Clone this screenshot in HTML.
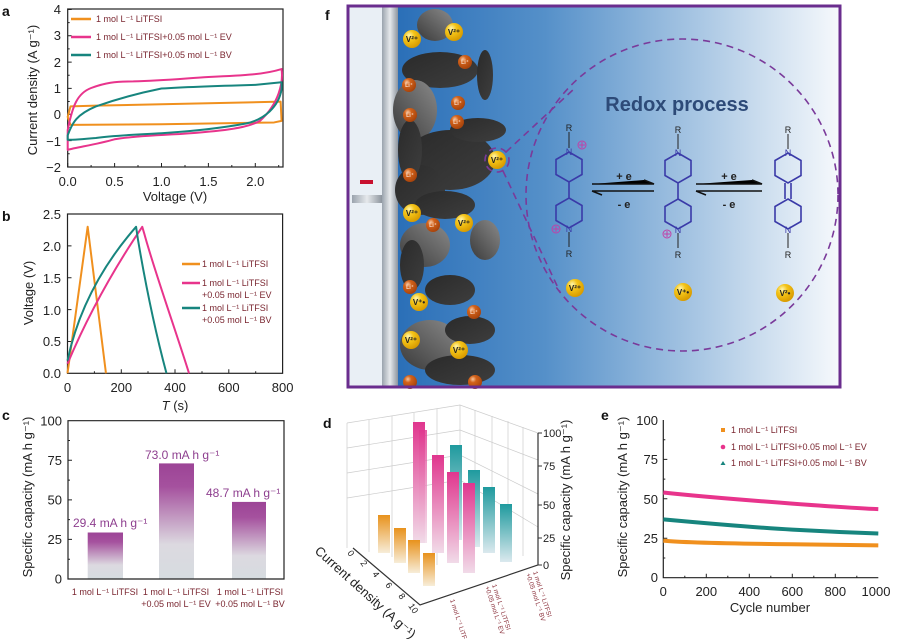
<!DOCTYPE html>
<html><head><meta charset="utf-8"><style>
html,body{margin:0;padding:0;background:#fff;}
svg{display:block;font-family:"Liberation Sans",sans-serif;}
.t{font-size:13px;fill:#222;}
.lg{font-size:9px;fill:#7a2630;}
.ax{fill:none;stroke:#222;stroke-width:1.2;}
.ns{vector-effect:non-scaling-stroke;fill:none;stroke-width:2;stroke-linejoin:round;}
.pl{font-size:14px;font-weight:bold;fill:#111;}
.ion{font-size:8px;font-weight:bold;fill:#222;}
.li{font-size:6px;fill:#fff;}
.mol{fill:none;stroke:#3a3aa8;stroke-width:1.6;}
</style></head><body>
<svg width="900" height="639" viewBox="0 0 900 639" xmlns="http://www.w3.org/2000/svg">
<defs>
<linearGradient id="bg" x1="0" x2="1" y1="0" y2="0"><stop offset="0" stop-color="#1c64b2"/><stop offset="0.4" stop-color="#5590c9"/><stop offset="1" stop-color="#f6f9fc"/></linearGradient>
<linearGradient id="rod" x1="0" x2="1"><stop offset="0" stop-color="#9aa3ad"/><stop offset="0.5" stop-color="#e6e9ec"/><stop offset="1" stop-color="#8d959e"/></linearGradient>
<linearGradient id="cb" x1="0" x2="0" y1="0" y2="1"><stop offset="0" stop-color="#9c4496"/><stop offset="0.2" stop-color="#a5519e"/><stop offset="0.7" stop-color="#dcd9e0"/><stop offset="1" stop-color="#d6dce0"/></linearGradient>
<linearGradient id="gO" x1="0" x2="0" y1="0" y2="1"><stop offset="0" stop-color="#e8921c"/><stop offset="1" stop-color="#f7edd8"/></linearGradient>
<linearGradient id="gP" x1="0" x2="0" y1="0" y2="1"><stop offset="0" stop-color="#e0368e"/><stop offset="1" stop-color="#f1dbe8"/></linearGradient>
<linearGradient id="gT" x1="0" x2="0" y1="0" y2="1"><stop offset="0" stop-color="#1f9a9e"/><stop offset="1" stop-color="#dbe9ee"/></linearGradient>
<radialGradient id="vy" cx="0.35" cy="0.3" r="0.7"><stop offset="0" stop-color="#fff6b0"/><stop offset="0.4" stop-color="#f4c418"/><stop offset="1" stop-color="#d99c00"/></radialGradient>
<radialGradient id="lo" cx="0.35" cy="0.3" r="0.7"><stop offset="0" stop-color="#f6c6a0"/><stop offset="0.35" stop-color="#d2621a"/><stop offset="1" stop-color="#a8440c"/></radialGradient>
<linearGradient id="blob" x1="0" x2="1" y1="0" y2="1"><stop offset="0" stop-color="#2a2a2a"/><stop offset="1" stop-color="#3e3e3e"/></linearGradient>
<linearGradient id="blob2" x1="0" x2="1" y1="1" y2="0"><stop offset="0" stop-color="#3a3a3a"/><stop offset="1" stop-color="#8a8a8a"/></linearGradient>
</defs>

<!-- ===== Panel a ===== -->
<text x="2" y="16" class="pl">a</text>
<rect x="67.7" y="9" width="215.3" height="158" class="ax"/>
<g class="t" text-anchor="end">
<text x="61" y="14">4</text><text x="61" y="40">3</text><text x="61" y="67">2</text><text x="61" y="93">1</text><text x="61" y="119">0</text><text x="61" y="146">−1</text><text x="61" y="172">−2</text>
</g>
<g stroke="#222" stroke-width="1">
<path d="M67.7 9.5h4M67.7 35.8h4M67.7 62.1h4M67.7 88.4h4M67.7 114.3h4M67.7 140.6h4M67.7 22.6h2M67.7 48.9h2M67.7 75.2h2M67.7 101.5h2M67.7 127.6h2M67.7 153.7h2"/>
<path d="M67.7 167v-4M114.6 167v-4M161.5 167v-4M208.4 167v-4M255.3 167v-4M91.1 167v-2M138 167v-2M185 167v-2M231.8 167v-2M278.7 167v-2"/>
</g>
<g class="t" text-anchor="middle">
<text x="67.7" y="186">0.0</text><text x="114.6" y="186">0.5</text><text x="161.5" y="186">1.0</text><text x="208.4" y="186">1.5</text><text x="255.3" y="186">2.0</text>
</g>
<text x="175" y="201" class="t" text-anchor="middle">Voltage (V)</text>
<text transform="translate(37,90) rotate(-90)" class="t" text-anchor="middle">Current density (A g⁻¹)</text>
<g transform="translate(67.7,114.3) scale(93.8,-26.3)">
<path class="ns" stroke="#f0901e" d="M0,-0.1 L0.03,0.3 L0.3,0.33 L1,0.38 L2.27,0.48 L2.28,-0.25 L2.2,-0.31 L1,-0.38 L0.03,-0.4 Z"/>
<path class="ns" stroke="#e8348c" d="M0,-0.6 C0.05,0.3 0.1,0.8 0.25,1.0 C0.4,1.2 0.5,1.25 0.7,1.25 C1,1.28 1.2,1.35 1.5,1.42 C1.9,1.48 2.1,1.52 2.28,1.72 C2.3,1.2 2.25,0.4 2.05,-0.25 C1.9,-0.55 1.6,-0.65 1.2,-0.75 C0.9,-0.8 0.65,-0.85 0.5,-0.95 C0.3,-1.15 0.1,-1.25 0,-1.35 Z"/>
<path class="ns" stroke="#17857e" d="M0,-0.8 C0.05,-0.3 0.1,0 0.3,0.3 C0.5,0.55 0.75,0.8 1.0,0.98 C1.3,1.05 1.6,1.08 2.0,1.12 L2.28,1.22 L2.28,0.95 C2.25,0.3 2.1,-0.2 1.9,-0.35 C1.6,-0.55 1.3,-0.65 1.0,-0.72 C0.7,-0.78 0.5,-0.8 0.3,-0.9 C0.15,-0.95 0.05,-0.97 0,-0.97 Z"/>
</g>
<g stroke-width="2.5"><path d="M71 19h20" stroke="#f0901e"/><path d="M71 37h20" stroke="#e8348c"/><path d="M71 55h20" stroke="#17857e"/></g>
<g class="lg" font-size="9.5"><text x="96" y="22">1 mol L⁻¹ LiTFSI</text><text x="96" y="40">1 mol L⁻¹ LiTFSI+0.05 mol L⁻¹ EV</text><text x="96" y="58">1 mol L⁻¹ LiTFSI+0.05 mol L⁻¹ BV</text></g>

<!-- ===== Panel b ===== -->
<text x="2" y="221" class="pl">b</text>
<rect x="67.5" y="214" width="215.1" height="159.3" class="ax"/>
<g class="t" text-anchor="end">
<text x="61" y="219">2.5</text><text x="61" y="251">2.0</text><text x="61" y="283">1.5</text><text x="61" y="315">1.0</text><text x="61" y="346">0.5</text><text x="61" y="378">0.0</text>
</g>
<g stroke="#222" stroke-width="1">
<path d="M67.5 245.9h4M67.5 277.8h4M67.5 309.6h4M67.5 341.5h4M121.3 373.3v-4M175 373.3v-4M228.8 373.3v-4M94.4 373.3v-2M148 373.3v-2M202 373.3v-2M255.7 373.3v-2"/>
</g>
<g class="t" text-anchor="middle"><text x="67.5" y="392">0</text><text x="121.3" y="392">200</text><text x="175" y="392">400</text><text x="228.8" y="392">600</text><text x="282.6" y="392">800</text></g>
<text x="175" y="410" class="t" text-anchor="middle"><tspan font-style="italic">T</tspan> (s)</text>
<text transform="translate(33,293) rotate(-90)" class="t" text-anchor="middle">Voltage (V)</text>
<g transform="translate(67.5,373.3) scale(0.2689,-63.7)">
<path class="ns" stroke="#f0901e" d="M0,0 L75,2.3 L143,0"/>
<path class="ns" stroke="#e8348c" d="M0,0.15 C60,0.75 150,1.5 278,2.3 L285,2.2 C320,1.65 400,0.7 452,0"/>
<path class="ns" stroke="#17857e" d="M0,0.2 C30,0.8 100,1.55 255,2.3 L262,2.1 C290,1.4 330,0.6 368,0"/>
</g>
<g stroke-width="2.5"><path d="M182 264h18" stroke="#f0901e"/><path d="M182 283h18" stroke="#e8348c"/><path d="M182 308h18" stroke="#17857e"/></g>
<g class="lg"><text x="202" y="267">1 mol L⁻¹ LiTFSI</text><text x="202" y="286">1 mol L⁻¹ LiTFSI</text><text x="202" y="298">+0.05 mol L⁻¹ EV</text><text x="202" y="311">1 mol L⁻¹ LiTFSI</text><text x="202" y="323">+0.05 mol L⁻¹ BV</text></g>

<!-- ===== Panel c ===== -->
<text x="2" y="420" class="pl">c</text>
<rect x="87.7" y="532.5" width="35.3" height="46.5" fill="url(#cb)"/>
<rect x="159" y="463.4" width="35" height="115.6" fill="url(#cb)"/>
<rect x="232" y="501.9" width="34" height="77.1" fill="url(#cb)"/>
<path d="M68 420.7V579H284V420.7Z" class="ax"/>
<g stroke="#222" stroke-width="1"><path d="M68 460.3h4M68 499.9h4M68 539.4h4M68 440.5h2M68 480.1h2M68 519.6h2M68 559.2h2"/></g>
<g class="t" text-anchor="end"><text x="62" y="425.5">100</text><text x="62" y="465">75</text><text x="62" y="504.5">50</text><text x="62" y="544">25</text><text x="62" y="583.5">0</text></g>
<text transform="translate(32,497) rotate(-90)" class="t" text-anchor="middle">Specific capacity (mA h g⁻¹)</text>
<g font-size="12" fill="#8e3f8f"><text x="73" y="527">29.4 mA h g⁻¹</text><text x="145" y="459">73.0 mA h g⁻¹</text><text x="206" y="497">48.7 mA h g⁻¹</text></g>
<g class="lg" text-anchor="middle"><text x="105" y="595">1 mol L⁻¹ LiTFSI</text><text x="176" y="595">1 mol L⁻¹ LiTFSI</text><text x="176" y="607">+0.05 mol L⁻¹ EV</text><text x="250" y="595">1 mol L⁻¹ LiTFSI</text><text x="250" y="607">+0.05 mol L⁻¹ BV</text></g>

<!-- ===== Panel d ===== -->
<text x="323" y="428" class="pl">d</text>
<g stroke="#ccc" stroke-width="0.7" fill="none">
<path d="M347 423L460 405L538 433M460 405V520M347 423V548M347 423L460 405"/>
<path d="M369 420V552M392 416V557M414 413V561M437 409V565M475 410V530M492 416V538M508 421V548M523 427V556"/>
<path d="M347 448L460 430L538 460M347 473L460 455L538 494M347 498L460 480L538 527"/>
</g>
<path d="M353 548L420 605L538 565V433" fill="none" stroke="#333" stroke-width="1.2"/>
<g stroke="#333" stroke-width="1"><path d="M538 433h4M538 466h4M538 505h4M538 538h4M538 565h4"/></g>
<g font-size="11" fill="#222"><text x="543" y="437">100</text><text x="543" y="470">75</text><text x="543" y="509">50</text><text x="543" y="542">25</text><text x="543" y="569">0</text></g>
<text transform="translate(570,500) rotate(-90)" class="t" text-anchor="middle">Specific capacity (mA h g⁻¹)</text>
<g font-size="9" fill="#222">
<text transform="translate(347,553) rotate(55)">0</text><text transform="translate(360,563) rotate(55)">2</text><text transform="translate(372,574) rotate(55)">4</text><text transform="translate(385,585) rotate(55)">6</text><text transform="translate(398,596) rotate(55)">8</text><text transform="translate(408,606) rotate(55)">10</text>
</g>
<text transform="translate(314,552) rotate(42)" class="t">Current density (A g⁻¹)</text>
<g font-size="6.5" fill="#8a2f3a">
<text transform="translate(450,600) rotate(72)">1 mol L⁻¹ LiTFSI</text>
<text transform="translate(492,585) rotate(72)">1 mol L⁻¹ LiTFSI</text><text transform="translate(485,587) rotate(72)">+0.05 mol L⁻¹ EV</text>
<text transform="translate(533,572) rotate(72)">1 mol L⁻¹ LiTFSI</text><text transform="translate(526,574) rotate(72)">+0.05 mol L⁻¹ BV</text>
</g>
<rect x="450" y="445" width="12" height="95" fill="url(#gT)"/><rect x="468" y="470" width="12" height="77" fill="url(#gT)"/><rect x="483" y="487" width="12" height="66" fill="url(#gT)"/><rect x="500" y="504" width="12" height="58" fill="url(#gT)"/>
<rect x="413" y="422" width="12" height="121" fill="url(#gP)"/><rect x="419" y="430" width="8" height="113" fill="url(#gP)" opacity="0.8"/><rect x="432" y="455" width="12" height="98" fill="url(#gP)"/><rect x="447" y="472" width="12" height="91" fill="url(#gP)"/><rect x="463" y="483" width="12" height="90" fill="url(#gP)"/>
<rect x="378" y="515" width="12" height="38" fill="url(#gO)"/><rect x="394" y="528" width="12" height="35" fill="url(#gO)"/><rect x="408" y="540" width="12" height="33" fill="url(#gO)"/><rect x="423" y="553" width="12" height="33" fill="url(#gO)"/>

<!-- ===== Panel e ===== -->
<text x="601" y="420" class="pl">e</text>
<path d="M663.3 420V577.7H878.3" class="ax"/>
<g stroke="#222" stroke-width="1"><path d="M663.3 459.4h4M663.3 498.8h4M663.3 538.3h4M663.3 439.7h2M663.3 479.1h2M663.3 518.6h2M663.3 558h2M706.3 577.7v-4M749.3 577.7v-4M792.3 577.7v-4M835.3 577.7v-4M684.8 577.7v-2M727.8 577.7v-2M770.8 577.7v-2M813.8 577.7v-2M856.8 577.7v-2"/></g>
<g class="t" text-anchor="end"><text x="658" y="425">100</text><text x="658" y="464">75</text><text x="658" y="504">50</text><text x="658" y="543">25</text><text x="658" y="582">0</text></g>
<g class="t" text-anchor="middle"><text x="663.3" y="596">0</text><text x="706.3" y="596">200</text><text x="749.3" y="596">400</text><text x="792.3" y="596">600</text><text x="835.3" y="596">800</text><text x="876" y="596">1000</text></g>
<text x="770" y="612" class="t" text-anchor="middle">Cycle number</text>
<text transform="translate(627,497) rotate(-90)" class="t" text-anchor="middle">Specific capacity (mA h g⁻¹)</text>
<g transform="translate(663.3,577.7) scale(0.215,-1.577)">
<path class="ns" stroke="#e8348c" style="stroke-width:4" d="M0,54 C200,51 400,49 600,47 C800,45 900,44 1000,43.5"/>
<path class="ns" stroke="#17857e" style="stroke-width:4" d="M0,37 C200,34.5 400,32 600,30.5 C800,29 900,28.5 1000,28"/>
<path class="ns" stroke="#f0901e" style="stroke-width:4" d="M0,23.5 C100,22 400,21.5 600,21.2 C800,21 900,20.6 1000,20.5"/>
</g>
<rect x="721" y="428" width="4" height="4" fill="#f0901e"/><circle cx="723" cy="447" r="2.3" fill="#e8348c"/><path d="M723 461l2.5 4h-5z" fill="#17857e"/>
<g class="lg"><text x="731" y="433">1 mol L⁻¹ LiTFSI</text><text x="731" y="450">1 mol L⁻¹ LiTFSI+0.05 mol L⁻¹ EV</text><text x="731" y="466">1 mol L⁻¹ LiTFSI+0.05 mol L⁻¹ BV</text></g>

<!-- ===== Panel f ===== -->
<text x="325" y="20" class="pl">f</text>
<rect x="348" y="6" width="492" height="381" fill="url(#bg)"/>
<rect x="348" y="6" width="34" height="381" fill="#e9eff5"/>
<rect x="382" y="6" width="16" height="381" fill="url(#rod)"/>
<rect x="352" y="195" width="30" height="8" fill="url(#rod)"/>
<rect x="360" y="180" width="13" height="4" fill="#c8102e"/>
<g fill="url(#blob)">
<ellipse cx="440" cy="70" rx="38" ry="18"/><ellipse cx="415" cy="110" rx="22" ry="30" fill="url(#blob2)"/>
<ellipse cx="450" cy="160" rx="45" ry="30"/><ellipse cx="420" cy="190" rx="25" ry="25"/>
<ellipse cx="478" cy="130" rx="28" ry="12"/><ellipse cx="485" cy="75" rx="8" ry="25"/>
<ellipse cx="425" cy="245" rx="25" ry="22" fill="url(#blob2)"/><ellipse cx="485" cy="240" rx="15" ry="20" fill="url(#blob2)"/>
<ellipse cx="450" cy="290" rx="25" ry="15"/><ellipse cx="430" cy="345" rx="30" ry="25" fill="url(#blob2)"/>
<ellipse cx="460" cy="370" rx="35" ry="15"/><ellipse cx="435" cy="25" rx="18" ry="16" fill="url(#blob2)"/>
<ellipse cx="470" cy="330" rx="25" ry="14"/><ellipse cx="410" cy="150" rx="12" ry="30"/>
<ellipse cx="445" cy="205" rx="30" ry="14"/><ellipse cx="412" cy="265" rx="12" ry="25"/>
</g>
<g>
<g fill="url(#vy)"><circle cx="412" cy="39" r="9"/><circle cx="454" cy="32" r="9"/><circle cx="412" cy="213" r="9"/><circle cx="464" cy="223" r="9"/><circle cx="411" cy="340" r="9"/><circle cx="459" cy="350" r="9"/><circle cx="497" cy="160" r="9"/><circle cx="419" cy="302" r="9"/><circle cx="575" cy="288" r="9"/><circle cx="683" cy="292" r="9"/><circle cx="785" cy="293" r="9"/></g>
<g class="ion" text-anchor="middle"><text x="412" y="42">V²⁺</text><text x="454" y="35">V²⁺</text><text x="412" y="216">V²⁺</text><text x="464" y="226">V²⁺</text><text x="411" y="343">V²⁺</text><text x="459" y="353">V²⁺</text><text x="497" y="163">V²⁺</text><text x="419" y="305">V⁺•</text><text x="575" y="291">V²⁺</text><text x="683" y="295">V⁺•</text><text x="785" y="296">V²•</text></g>
<g fill="url(#lo)"><circle cx="465" cy="62" r="7"/><circle cx="409" cy="85" r="7"/><circle cx="458" cy="103" r="7"/><circle cx="410" cy="115" r="7"/><circle cx="457" cy="122" r="7"/><circle cx="410" cy="175" r="7"/><circle cx="433" cy="225" r="7"/><circle cx="410" cy="287" r="7"/><circle cx="474" cy="312" r="7"/><circle cx="410" cy="382" r="7"/><circle cx="475" cy="382" r="7"/></g>
<g class="li" text-anchor="middle"><text x="465" y="64">Li⁺</text><text x="409" y="87">Li⁺</text><text x="458" y="105">Li⁺</text><text x="410" y="117">Li⁺</text><text x="457" y="124">Li⁺</text><text x="410" y="177">Li⁺</text><text x="433" y="227">Li⁺</text><text x="410" y="289">Li⁺</text><text x="474" y="314">Li⁺</text></g>
</g>
<g fill="none" stroke="#7a3a9a" stroke-width="1.6" stroke-dasharray="7,5">
<circle cx="682" cy="195" r="156"/>
<circle cx="497" cy="160" r="12"/>
<path d="M506 152L575 88M503 171L560 292"/>
</g>
<text x="677" y="111" font-size="20" font-weight="bold" fill="#2d4a78" text-anchor="middle">Redox process</text>
<g class="mol">
<path d="M569 152l13 7.5v15l-13 7.5l-13-7.5v-15z M569 182v16 M569 198l13 7.5v15l-13 7.5l-13-7.5v-15z"/>
<path d="M678 153l13 7.5v15l-13 7.5l-13-7.5v-15z M678 183v16 M678 199l13 7.5v15l-13 7.5l-13-7.5v-15z"/>
<path d="M788 153l13 7.5v15l-13 7.5l-13-7.5v-15z M785 183v16M791 183v16 M788 199l13 7.5v15l-13 7.5l-13-7.5v-15z"/>
</g>
<g stroke="#222" stroke-width="1"><path d="M569 132v16M569 232v15M678 134v15M678 233v15M788 134v15M788 233v15"/></g>
<g font-size="9" fill="#222" text-anchor="middle"><text x="569" y="131">R</text><text x="569" y="257">R</text><text x="678" y="133">R</text><text x="678" y="258">R</text><text x="788" y="133">R</text><text x="788" y="258">R</text></g>
<g font-size="9" fill="#3a3aa8" text-anchor="middle"><text x="569" y="155">N</text><text x="569" y="232">N</text><text x="678" y="156">N</text><text x="678" y="233">N</text><text x="788" y="156">N</text><text x="788" y="233">N</text></g>
<g fill="none" stroke="#c040a8" stroke-width="1"><circle cx="582" cy="145" r="4"/><circle cx="556" cy="229" r="4"/><circle cx="667" cy="234" r="4"/><path d="M579 145h6M582 142v6M553 229h6M556 226v6M664 234h6M667 231v6"/></g>
<g stroke="#111" stroke-width="1.5"><path d="M592 184h62l-10-4M592 191h62M592 191l10 4M696 184h66l-10-4M696 191h66M696 191l10 4"/></g>
<g font-size="11" font-weight="bold" fill="#222" text-anchor="middle"><text x="624" y="180">+ e</text><text x="624" y="208">- e</text><text x="729" y="180">+ e</text><text x="729" y="208">- e</text></g>
<rect x="348" y="6" width="492" height="381" fill="none" stroke="#6a2d8e" stroke-width="3"/>
</svg>
</body></html>
